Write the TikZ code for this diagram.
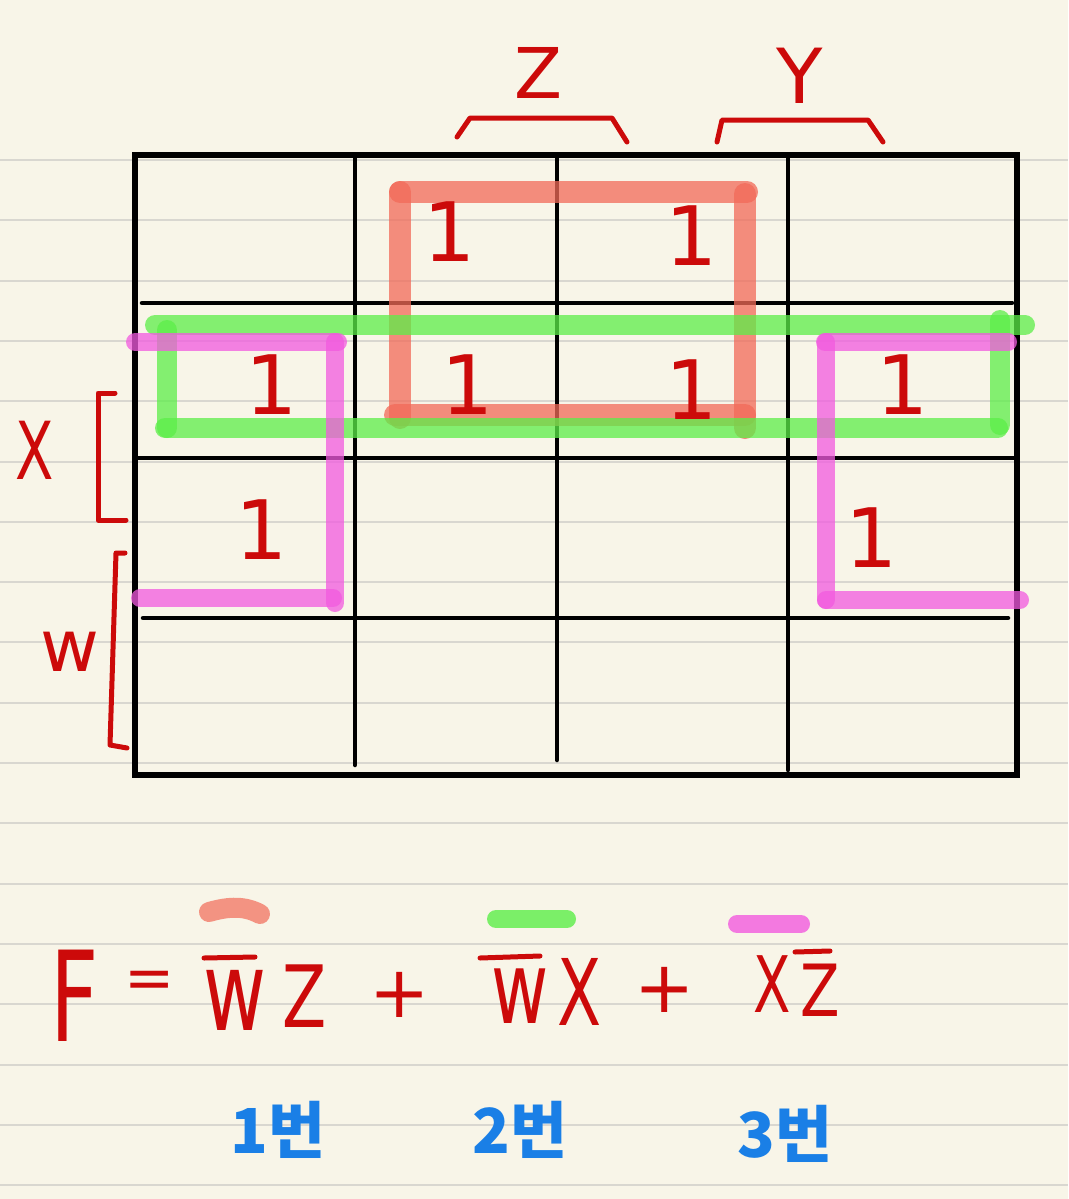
\documentclass[tikz,border=0pt]{standalone}
\usepackage{fontspec}
\setmainfont{DejaVu Sans}
\newfontfamily\kofont{Noto Sans CJK KR}
\definecolor{paper}{HTML}{F8F5E8}
\definecolor{rule}{HTML}{D9D7D0}
\definecolor{ink}{HTML}{CC0A0A}
\definecolor{hlred}{HTML}{F26A58}
\definecolor{hlgreen}{HTML}{5CEE48}
\definecolor{hlpink}{HTML}{F25ADF}
\definecolor{kblue}{HTML}{1A7FE6}
\tikzset{
  gridline/.style={line width=4.5pt, black, line cap=round},
  redhl/.style={line width=22pt, hlred, opacity=0.75, line cap=round},
  greenhl/.style={line width=20pt, hlgreen, opacity=0.75, line cap=round},
  pinkhl/.style={line width=18pt, hlpink, opacity=0.75, line cap=round},
  one/.style={ink, font=\fontsize{82}{82}\selectfont, inner sep=0pt},
  lbl/.style={ink, inner sep=0pt},
  brk/.style={ink, line width=5pt, line cap=round, line join=round},
  eq/.style={ink, inner sep=0pt, font=\fontsize{90}{90}\selectfont},
  ko/.style={kblue, inner sep=0pt, font=\kofont\bfseries\fontsize{62}{62}\selectfont}
}
\begin{document}
\begin{tikzpicture}[x=1pt,y=-1pt]
\fill[paper] (0,0) rectangle (1068,1199);
\useasboundingbox (0,0) rectangle (1068,1199);
% ruled paper
\foreach \i in {0,...,17} {
  \draw[rule, line width=2pt] (0,{160+60.3*\i}) -- (1068,{160+60.3*\i});
}
% grid
\draw[line width=6pt, black] (135,155) rectangle (1017,775);
\draw[gridline] (142,303) -- (1012,303);
\draw[gridline] (135,458) -- (1017,458);
\draw[gridline] (143,618) -- (1008,618);
\draw[gridline] (355,155) -- (355,765);
\draw[gridline] (557,155) -- (557,760);
\draw[gridline] (788,155) -- (788,770);
% red group
\coordinate (r1) at (400,192); \coordinate (r2) at (747,192);
\coordinate (r3) at (745,428); \coordinate (r4) at (400,418);
\draw[redhl] (r1) -- (r2);
\draw[redhl] (r1) -- (r4);
\draw[redhl] (745,194) -- (r3);
\draw[redhl] (395,415) -- (745,415);
% green group
\draw[greenhl] (155,325) -- (1025,325);
\draw[greenhl] (167,330) -- (167,428);
\draw[greenhl] (165,428) -- (998,428);
\draw[greenhl] (1000,320) -- (1000,425);
% pink groups
\draw[pinkhl] (135,342) -- (338,342);
\draw[pinkhl] (335,342) -- (335,603);
\draw[pinkhl] (140,598) -- (333,598);
\draw[pinkhl] (825,342) -- (1008,342);
\draw[pinkhl] (826,342) -- (826,600);
\draw[pinkhl] (826,600) -- (1020,600);
% ones
\node[one] (c01) at (450,232) {1};
\node[one] (c02) at (692,236) {1};
\node[one] (c11) at (272,385) {1};
\node[one] (c12) at (468,385) {1};
\node[one] (c13) at (692,390) {1};
\node[one] (c14) at (903,385) {1};
\node[one] (c21) at (262,530) {1};
\node[one] (c24) at (872,538) {1};
% top labels and brackets
\node[lbl, font=\fontsize{70}{70}\selectfont] (zlab) at (538,73) {Z};
\node[lbl, font=\fontsize{76}{76}\selectfont] (ylab) at (800,76) {Y};
\draw[brk] (457,137) -- (470,118) -- (612,118) -- (627,142);
\draw[brk] (717,142) -- (722,120) -- (868,120) -- (883,142);
% left labels and brackets
\node[lbl, font=\fontsize{80}{80}\selectfont, xscale=0.7] (xlab) at (35,450) {X};
\node[lbl, font=\fontsize{72}{72}\selectfont] (wlab) at (70,652) {w};
\draw[brk] (115,393) -- (98,393) -- (98,520) -- (126,520);
\draw[brk] (125,553) -- (116,553) -- (110,745) -- (127,748);
% equation
\node[eq, font=\fontsize{112}{112}\selectfont, xscale=0.75, yscale=1.12] (F) at (75,996) {F};
\node[eq, font=\fontsize{60}{60}\selectfont] (eqs) at (150,985) {=};
\node[eq, font=\fontsize{110}{110}\selectfont, xscale=0.7] (w1) at (235,1000) {w};
\node[eq, font=\fontsize{86}{86}\selectfont, xscale=0.75] (z1) at (305,996) {Z};
\node[eq, font=\fontsize{72}{72}\selectfont] (p1) at (400,995) {+};
\node[eq, font=\fontsize{100}{100}\selectfont, xscale=0.7] (w2) at (520,996) {w};
\node[eq, font=\fontsize{92}{92}\selectfont, xscale=0.7] (x2) at (580,992) {X};
\node[eq, font=\fontsize{72}{72}\selectfont] (p2) at (665,990) {+};
\node[eq, font=\fontsize{78}{78}\selectfont, xscale=0.7] (x3) at (772,984) {X};
\node[eq, font=\fontsize{72}{72}\selectfont, xscale=0.8] (z3) at (820,990) {Z};
\draw[brk] (204,958) -- (255,957);
\draw[brk] (480,958) -- (540,956);
\draw[brk] (795,952) -- (830,951);
% highlighter marks above
\draw[line width=20pt, hlred, opacity=0.7, line cap=round] (209,912) .. controls (230,906) and (245,906) .. (260,914);
\draw[line width=18pt, hlgreen, opacity=0.8, line cap=round] (496,919) -- (567,919);
\draw[line width=18pt, hlpink, opacity=0.8, line cap=round] (737,924) -- (801,924);
% korean labels
\node[ko] (k1) at (278,1130) {1번};
\node[ko] (k2) at (520,1130) {2번};
\node[ko] (k3) at (785,1134) {3번};
\end{tikzpicture}
\end{document}
